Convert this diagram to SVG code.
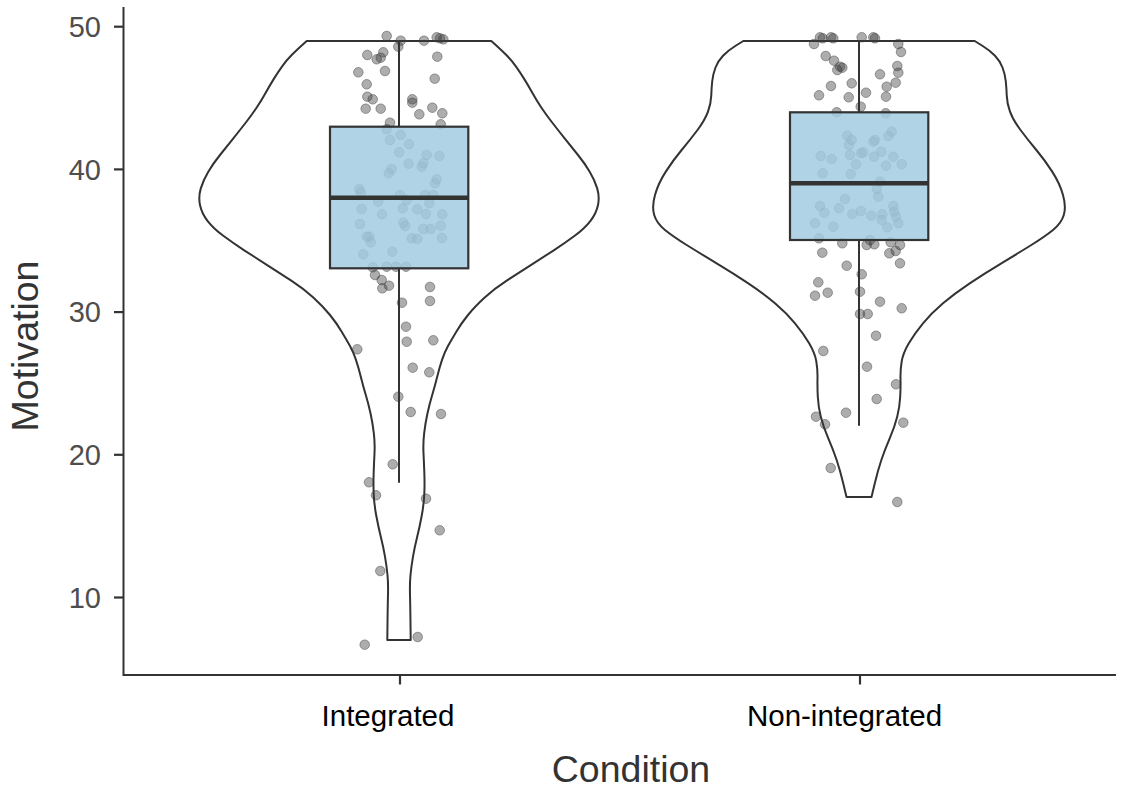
<svg xmlns="http://www.w3.org/2000/svg" width="1131" height="792" viewBox="0 0 1131 792">
<style>
.violin{fill:#ffffff;stroke:#333333;stroke-width:2;stroke-linejoin:round}
.box{fill:rgb(162,204,225);fill-opacity:0.85;stroke:#333333;stroke-width:2.2}
.whisker{stroke:#333333;stroke-width:2;fill:none}
.median{stroke:#333333;stroke-width:4.5}
.pt circle{fill:#3c3c3c;fill-opacity:0.42;stroke:#3c3c3c;stroke-opacity:0.45;stroke-width:1}
.axis{stroke:#333333;stroke-width:2;fill:none}
.tick{stroke:#333333;stroke-width:2.2}
.ylab{font-family:"Liberation Sans",Arial,sans-serif;font-size:29px;fill:#4d4d4d;text-anchor:end}
.xlab{font-family:"Liberation Sans",Arial,sans-serif;font-size:29.5px;fill:#000000;text-anchor:middle}
.title{font-family:"Liberation Sans",Arial,sans-serif;font-size:37.5px;fill:#333333;text-anchor:middle}
</style>
<rect width="1131" height="792" fill="#ffffff"/>

<g id="axes">
<path class="axis" d="M123.5,7 V675 H1116"/>
<line class="tick" x1="114" y1="26.7" x2="123.5" y2="26.7"/>
<line class="tick" x1="114" y1="169.4" x2="123.5" y2="169.4"/>
<line class="tick" x1="114" y1="312.1" x2="123.5" y2="312.1"/>
<line class="tick" x1="114" y1="454.8" x2="123.5" y2="454.8"/>
<line class="tick" x1="114" y1="597.5" x2="123.5" y2="597.5"/>
<line class="tick" x1="400" y1="675" x2="400" y2="684.5"/>
<line class="tick" x1="860" y1="675" x2="860" y2="684.5"/>
<text class="ylab" x="101" y="37">50</text>
<text class="ylab" x="101" y="179.7">40</text>
<text class="ylab" x="101" y="322.4">30</text>
<text class="ylab" x="101" y="465.1">20</text>
<text class="ylab" x="101" y="607.8">10</text>
<text class="xlab" x="388" y="725.5">Integrated</text>
<text class="xlab" x="844.5" y="725.5">Non-integrated</text>
<text class="title" x="631" y="782">Condition</text>
<text class="title" transform="translate(38,346) rotate(-90)">Motivation</text>
</g>

<g id="violin-integrated">
<path class="violin" d="M306.7,41 L301.7,45.5 Q296.7,50 291.7,55 Q286.7,60 282.5,65.85 Q278.3,71.7 274.15,78.35 Q270,85 265.85,92.5 Q261.7,100 256.7,107.5 Q251.7,115 245.85,122.5 Q240,130 233.35,138.35 Q226.7,146.7 220,155 Q213.3,163.3 208.3,171.65 Q203.3,180 200.8,188.35 Q198.3,196.7 200,205 Q201.7,213.3 207.5,220.8 Q213.3,228.3 223.3,235.8 Q233.3,243.3 245,250.8 Q256.7,258.3 268.35,265.8 Q280,273.3 291.65,280.8 Q303.3,288.3 313.3,297.5 Q323.3,306.7 330,315 Q336.7,323.3 341.7,331.65 Q346.7,340 350,346 Q353.3,352 355.8,359.35 Q358.3,366.7 360.8,376.7 Q363.3,386.7 365.8,395 Q368.3,403.3 370.5,413.3 Q372.7,423.3 373.85,433.3 Q375,443.3 374.5,453.3 Q374,463.3 373.65,473.3 Q373.3,483.3 373.65,493.3 Q374,503.3 376.15,515 Q378.3,526.7 380.8,536.7 Q383.3,546.7 385,556.7 Q386.7,566.7 387.5,575 Q388.3,583.3 388,595 Q387.7,606.7 387.5,623.35 L387.3,640 L410.7,640 L410.5,623.35 Q410.3,606.7 410,595 Q409.7,583.3 410.5,575 Q411.3,566.7 413,556.7 Q414.7,546.7 417.2,536.7 Q419.7,526.7 421.85,515 Q424,503.3 424.35,493.3 Q424.7,483.3 424.35,473.3 Q424,463.3 423.5,453.3 Q423,443.3 424.15,433.3 Q425.3,423.3 427.5,413.3 Q429.7,403.3 432.2,395 Q434.7,386.7 437.2,376.7 Q439.7,366.7 442.2,359.35 Q444.7,352 448,346 Q451.3,340 456.3,331.65 Q461.3,323.3 468,315 Q474.7,306.7 484.7,297.5 Q494.7,288.3 506.35,280.8 Q518,273.3 529.65,265.8 Q541.3,258.3 553,250.8 Q564.7,243.3 574.7,235.8 Q584.7,228.3 590.5,220.8 Q596.3,213.3 598,205 Q599.7,196.7 597.2,188.35 Q594.7,180 589.7,171.65 Q584.7,163.3 578,155 Q571.3,146.7 564.65,138.35 Q558,130 552.15,122.5 Q546.3,115 541.3,107.5 Q536.3,100 532.15,92.5 Q528,85 523.85,78.35 Q519.7,71.7 515.5,65.85 Q511.3,60 506.3,55 Q501.3,50 496.3,45.5 L491.3,41 Z"/>
</g>

<g id="violin-nonintegrated">
<path class="violin" d="M743.3,41 L735.65,45.75 Q728,50.5 723,55.75 Q718,61 715.5,67.5 Q713,74 712.25,81 Q711.5,88 711.25,95.65 Q711,103.3 708,111.65 Q705,120 697.5,130 Q690,140 681.65,150 Q673.3,160 665.8,171.65 Q658.3,183.3 655,195 Q651.7,206.7 654.2,215 Q656.7,223.3 665,230 Q673.3,236.7 686.65,245 Q700,253.3 716.65,263.3 Q733.3,273.3 748.3,283.3 Q763.3,293.3 775,303.3 Q786.7,313.3 795,323.3 Q803.3,333.3 809.15,343.3 Q815,353.3 816.35,361.65 Q817.7,370 817.5,378.35 Q817.3,386.7 817.8,396.7 Q818.3,406.7 820.8,416.7 Q823.3,426.7 828.3,438.35 Q833.3,450 836.65,460 Q840,470 843.25,483.5 L846.5,497 L871.5,497 L874.75,483.5 Q878,470 881.35,460 Q884.7,450 889.7,438.35 Q894.7,426.7 897.2,416.7 Q899.7,406.7 900.2,396.7 Q900.7,386.7 900.5,378.35 Q900.3,370 901.65,361.65 Q903,353.3 908.85,343.3 Q914.7,333.3 923,323.3 Q931.3,313.3 943,303.3 Q954.7,293.3 969.7,283.3 Q984.7,273.3 1001.35,263.3 Q1018,253.3 1031.35,245 Q1044.7,236.7 1053,230 Q1061.3,223.3 1063.8,215 Q1066.3,206.7 1063,195 Q1059.7,183.3 1052.2,171.65 Q1044.7,160 1036.35,150 Q1028,140 1020.5,130 Q1013,120 1010,111.65 Q1007,103.3 1006.75,95.65 Q1006.5,88 1005.75,81 Q1005,74 1002.5,67.5 Q1000,61 995,55.75 Q990,50.5 982.35,45.75 L974.7,41 Z"/>
</g>

<g id="points-integrated" class="pt">
<circle cx="386.7" cy="36" r="4.8"/><circle cx="400.7" cy="40.7" r="4.8"/><circle cx="398.3" cy="46.7" r="4.8"/><circle cx="424" cy="40.7" r="4.8"/><circle cx="436.7" cy="37.3" r="4.8"/><circle cx="440" cy="38.3" r="4.8"/><circle cx="443.3" cy="39.3" r="4.8"/><circle cx="367.3" cy="55" r="4.8"/><circle cx="383.3" cy="52.3" r="4.8"/><circle cx="376.7" cy="59.3" r="4.8"/><circle cx="380.7" cy="57.7" r="4.8"/><circle cx="437.3" cy="56.7" r="4.8"/><circle cx="358.3" cy="72.3" r="4.8"/><circle cx="385" cy="71" r="4.8"/><circle cx="434.7" cy="78.7" r="4.8"/><circle cx="366.7" cy="84.3" r="4.8"/><circle cx="367.3" cy="96.7" r="4.8"/><circle cx="372.7" cy="99.3" r="4.8"/><circle cx="412.3" cy="99.3" r="4.8"/><circle cx="412.3" cy="102.7" r="4.8"/><circle cx="365.7" cy="108.7" r="4.8"/><circle cx="380.7" cy="108.7" r="4.8"/><circle cx="419.3" cy="114.3" r="4.8"/><circle cx="432.3" cy="107.7" r="4.8"/><circle cx="442.3" cy="113.3" r="4.8"/><circle cx="390" cy="122.7" r="4.8"/><circle cx="440.7" cy="124.3" r="4.8"/>
<circle cx="386.7" cy="129.3" r="4.8"/><circle cx="400.7" cy="135" r="4.8"/><circle cx="390" cy="140" r="4.8"/><circle cx="409" cy="144.3" r="4.8"/><circle cx="399.3" cy="152.3" r="4.8"/><circle cx="426.7" cy="155" r="4.8"/><circle cx="439.3" cy="156" r="4.8"/><circle cx="408.7" cy="163.7" r="4.8"/><circle cx="423.3" cy="163.3" r="4.8"/><circle cx="421.7" cy="166.7" r="4.8"/><circle cx="391.7" cy="169" r="4.8"/><circle cx="388.7" cy="173.3" r="4.8"/><circle cx="436.7" cy="179.3" r="4.8"/><circle cx="435" cy="183.3" r="4.8"/><circle cx="359.3" cy="189" r="4.8"/><circle cx="360.7" cy="192.3" r="4.8"/><circle cx="378.3" cy="201.7" r="4.8"/><circle cx="400" cy="195" r="4.8"/><circle cx="406.7" cy="200" r="4.8"/><circle cx="425" cy="195" r="4.8"/><circle cx="433.3" cy="195" r="4.8"/><circle cx="429.3" cy="203.3" r="4.8"/><circle cx="361.7" cy="209" r="4.8"/><circle cx="402.7" cy="208.3" r="4.8"/><circle cx="417.3" cy="209.3" r="4.8"/><circle cx="426" cy="214" r="4.8"/><circle cx="442.3" cy="214.3" r="4.8"/><circle cx="382" cy="214.3" r="4.8"/><circle cx="360" cy="224" r="4.8"/><circle cx="403.3" cy="222.7" r="4.8"/><circle cx="405.3" cy="226" r="4.8"/><circle cx="423.3" cy="229" r="4.8"/><circle cx="430.7" cy="229" r="4.8"/><circle cx="440.7" cy="225.7" r="4.8"/><circle cx="366.7" cy="236.7" r="4.8"/><circle cx="370.7" cy="242.3" r="4.8"/><circle cx="369.3" cy="236.7" r="4.8"/><circle cx="411.7" cy="238.3" r="4.8"/><circle cx="417.3" cy="239" r="4.8"/><circle cx="442" cy="238" r="4.8"/><circle cx="363.3" cy="254.3" r="4.8"/><circle cx="392.3" cy="251.7" r="4.8"/><circle cx="372.7" cy="267.3" r="4.8"/><circle cx="386.7" cy="266.7" r="4.8"/><circle cx="396" cy="266.7" r="4.8"/><circle cx="406" cy="266.7" r="4.8"/>
<circle cx="375" cy="275" r="4.8"/><circle cx="381.7" cy="280" r="4.8"/><circle cx="382.3" cy="288.3" r="4.8"/><circle cx="389" cy="285.7" r="4.8"/><circle cx="430" cy="287" r="4.8"/><circle cx="430" cy="301" r="4.8"/><circle cx="402" cy="302.7" r="4.8"/><circle cx="406" cy="326.7" r="4.8"/><circle cx="406.7" cy="341.7" r="4.8"/><circle cx="433.3" cy="340.3" r="4.8"/><circle cx="357.3" cy="349.3" r="4.8"/><circle cx="412.7" cy="367.7" r="4.8"/><circle cx="429.3" cy="372.3" r="4.8"/><circle cx="398.3" cy="396.7" r="4.8"/><circle cx="410.7" cy="412" r="4.8"/><circle cx="441" cy="414" r="4.8"/><circle cx="392.7" cy="464.3" r="4.8"/><circle cx="369" cy="482.3" r="4.8"/><circle cx="376" cy="495.3" r="4.8"/><circle cx="426" cy="498.7" r="4.8"/><circle cx="439.7" cy="530.3" r="4.8"/><circle cx="380.3" cy="571" r="4.8"/><circle cx="417.7" cy="637" r="4.8"/><circle cx="364.7" cy="644.7" r="4.8"/>
</g>

<g id="points-nonintegrated" class="pt">
<circle cx="820" cy="37.3" r="4.8"/><circle cx="822.7" cy="38.3" r="4.8"/><circle cx="831" cy="37.3" r="4.8"/><circle cx="833.3" cy="38.3" r="4.8"/><circle cx="861.7" cy="37.3" r="4.8"/><circle cx="873.3" cy="37.3" r="4.8"/><circle cx="875" cy="38.3" r="4.8"/><circle cx="814" cy="44" r="4.8"/><circle cx="898.3" cy="44" r="4.8"/><circle cx="901" cy="52" r="4.8"/><circle cx="825.7" cy="56" r="4.8"/><circle cx="834" cy="60.7" r="4.8"/><circle cx="840" cy="66.7" r="4.8"/><circle cx="842.3" cy="67.7" r="4.8"/><circle cx="837.3" cy="70" r="4.8"/><circle cx="897.3" cy="66" r="4.8"/><circle cx="898.3" cy="72.7" r="4.8"/><circle cx="880" cy="74.3" r="4.8"/><circle cx="851.7" cy="83.3" r="4.8"/><circle cx="831" cy="86" r="4.8"/><circle cx="895.7" cy="82.7" r="4.8"/><circle cx="886.7" cy="86.7" r="4.8"/><circle cx="819" cy="95.3" r="4.8"/><circle cx="848.7" cy="97.3" r="4.8"/><circle cx="866" cy="92.7" r="4.8"/><circle cx="886" cy="96.7" r="4.8"/><circle cx="860.7" cy="106.7" r="4.8"/><circle cx="836.7" cy="112.3" r="4.8"/><circle cx="885.7" cy="113.3" r="4.8"/>
<circle cx="847.3" cy="135.7" r="4.8"/><circle cx="851.7" cy="140" r="4.8"/><circle cx="849" cy="145" r="4.8"/><circle cx="873.3" cy="141.7" r="4.8"/><circle cx="875" cy="140" r="4.8"/><circle cx="891.7" cy="131.7" r="4.8"/><circle cx="888.3" cy="136" r="4.8"/><circle cx="820.7" cy="156" r="4.8"/><circle cx="831.7" cy="159" r="4.8"/><circle cx="850" cy="155" r="4.8"/><circle cx="861" cy="153.3" r="4.8"/><circle cx="863.3" cy="152.3" r="4.8"/><circle cx="874" cy="156.7" r="4.8"/><circle cx="881.3" cy="151.7" r="4.8"/><circle cx="893.3" cy="156.7" r="4.8"/><circle cx="856" cy="164.3" r="4.8"/><circle cx="886" cy="165.7" r="4.8"/><circle cx="901.7" cy="164.3" r="4.8"/><circle cx="822.7" cy="173.3" r="4.8"/><circle cx="850.7" cy="174" r="4.8"/><circle cx="880" cy="181.7" r="4.8"/><circle cx="876.7" cy="189" r="4.8"/><circle cx="878.3" cy="196.7" r="4.8"/><circle cx="845" cy="199" r="4.8"/><circle cx="820" cy="206" r="4.8"/><circle cx="824.3" cy="212.7" r="4.8"/><circle cx="839" cy="208.3" r="4.8"/><circle cx="852.3" cy="214" r="4.8"/><circle cx="861" cy="211" r="4.8"/><circle cx="871.3" cy="215.7" r="4.8"/><circle cx="882.3" cy="214.3" r="4.8"/><circle cx="881.7" cy="220" r="4.8"/><circle cx="893.3" cy="206" r="4.8"/><circle cx="894" cy="211.7" r="4.8"/><circle cx="896" cy="216.7" r="4.8"/><circle cx="898.3" cy="223.3" r="4.8"/><circle cx="815" cy="223.3" r="4.8"/><circle cx="833.3" cy="226.7" r="4.8"/><circle cx="887.3" cy="227.3" r="4.8"/><circle cx="819" cy="238.3" r="4.8"/>
<circle cx="842.3" cy="243.3" r="4.8"/><circle cx="870" cy="240" r="4.8"/><circle cx="866.7" cy="245" r="4.8"/><circle cx="874.3" cy="244.3" r="4.8"/><circle cx="890.7" cy="242.3" r="4.8"/><circle cx="900" cy="245" r="4.8"/><circle cx="889.3" cy="253.3" r="4.8"/><circle cx="895.7" cy="251" r="4.8"/><circle cx="822.3" cy="252.7" r="4.8"/><circle cx="846.7" cy="265.7" r="4.8"/><circle cx="900" cy="263.3" r="4.8"/><circle cx="861.7" cy="274.3" r="4.8"/><circle cx="818.3" cy="282.3" r="4.8"/><circle cx="815" cy="295.7" r="4.8"/><circle cx="827.7" cy="292.7" r="4.8"/><circle cx="860" cy="291.7" r="4.8"/><circle cx="880" cy="301.7" r="4.8"/><circle cx="901.7" cy="308.3" r="4.8"/><circle cx="860" cy="314" r="4.8"/><circle cx="867.7" cy="314" r="4.8"/><circle cx="876" cy="335.7" r="4.8"/><circle cx="823.3" cy="351" r="4.8"/><circle cx="867" cy="366.7" r="4.8"/><circle cx="896" cy="384.3" r="4.8"/><circle cx="876.7" cy="399" r="4.8"/><circle cx="816" cy="416.7" r="4.8"/><circle cx="825" cy="424.3" r="4.8"/><circle cx="846" cy="412.7" r="4.8"/><circle cx="903.3" cy="422.7" r="4.8"/><circle cx="830.7" cy="468" r="4.8"/><circle cx="897.3" cy="502" r="4.8"/>
</g>

<g id="connectors">
<line class="whisker" x1="399" y1="41" x2="399" y2="126.7"/>
<line class="whisker" x1="399" y1="268.3" x2="399" y2="482.7"/>
<line class="whisker" x1="859" y1="41" x2="859" y2="112.3"/>
<line class="whisker" x1="859" y1="240" x2="859" y2="425.7"/>
</g>

<g id="box-integrated">
<rect class="box" x="330" y="126.7" width="138.3" height="141.6"/>
<line class="median" x1="330" y1="197.7" x2="468.3" y2="197.7"/>
</g>

<g id="box-nonintegrated">
<rect class="box" x="790" y="112.3" width="138.3" height="127.7"/>
<line class="median" x1="790" y1="183.3" x2="928.3" y2="183.3"/>
</g>
</svg>
